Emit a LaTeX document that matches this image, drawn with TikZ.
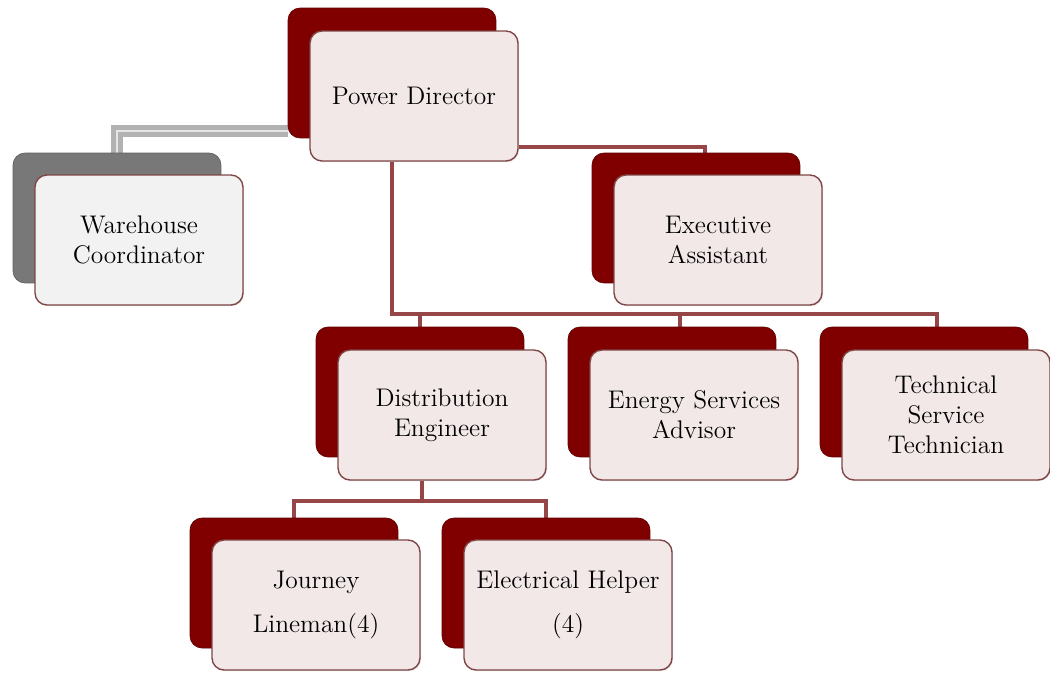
\documentclass[tikz,border=0pt]{standalone}
\usepackage{tikz}
\usetikzlibrary{arrows.meta, positioning, shadows, backgrounds}

\definecolor{darkred}{RGB}{128,0,0}
\definecolor{rimred}{RGB}{96,0,0}
\definecolor{pinkfill}{RGB}{242,232,232}
\definecolor{framebrown}{RGB}{128,70,70}
\definecolor{linkred}{RGB}{150,70,70}
\definecolor{darkgrey}{RGB}{120,120,120}
\definecolor{whitefill}{RGB}{242,242,242}

\begin{document}
\begin{tikzpicture}[x=0.02cm, y=-0.02cm,
    backbox/.style={draw=rimred, fill=darkred, rectangle, rounded corners=0.24cm,
        minimum width=4.16cm, minimum height=2.6cm, line width=0.4pt},
    greyback/.style={backbox, draw=darkgrey!80!black, fill=darkgrey},
    frontbox/.style={draw=framebrown, fill=pinkfill, rectangle, rounded corners=0.24cm,
        minimum width=4.16cm, minimum height=2.6cm, line width=0.8pt, align=center,
        font=\fontsize{14.5}{17}\selectfont,
        drop shadow={shadow xshift=0.6pt, shadow yshift=-0.6pt, opacity=0.25}},
    greyfront/.style={frontbox, fill=whitefill},
    redline/.style={draw=linkred, line width=1.9pt},
    greyline/.style={draw=gray!60, line width=2.6pt, double=gray!20, double distance=1.2pt}]
    \useasboundingbox (0,0) rectangle (1050,673);

    % Top level
    \node[backbox] (pdb) at (392,73) {};
    \node[frontbox] (pd) at (414,96) {Power Director};

    % Staff
    \node[greyback] (whb) at (117,218) {};
    \node[greyfront] (wh) at (139,240) {Warehouse\\Coordinator};
    \node[backbox] (eab) at (696,218) {};
    \node[frontbox] (ea) at (718,240) {Executive\\Assistant};

    % Second level
    \node[backbox] (deb) at (420,392) {};
    \node[frontbox] (de) at (442,415) {Distribution\\Engineer};
    \node[backbox] (esb) at (672,392) {};
    \node[frontbox] (es) at (694,415) {Energy Services\\Advisor};
    \node[backbox] (tsb) at (924,392) {};
    \node[frontbox] (ts) at (946,415) {Technical\\Service\\Technician};

    % Third level
    \node[backbox] (jlb) at (294,583) {};
    \node[frontbox] (jl) at (316,605) {Journey\\[8pt]Lineman(4)};
    \node[backbox] (ehb) at (546,583) {};
    \node[frontbox] (eh) at (568,605) {Electrical Helper\\[8pt](4)};

    % Connectors
    \coordinate (j1) at (117,131);
    \coordinate (j2) at (705,147);
    \coordinate (j3) at (392,314);
    \coordinate (j4) at (937,314);
    \coordinate (j5) at (680,314);
    \coordinate (k1) at (422,501);
    \begin{scope}[on background layer]
        \draw[greyline] (pdb.west |- j1) -- (j1) -- (whb.north);
        \draw[redline] (pd.east |- j2) -- (j2) -- (j2 |- eab.north);
        \draw[redline] (pd.south -| j3) -- (j3) -- (j4) -- (j4 |- tsb.north);
        \draw[redline] (j3 -| deb.north) -- (deb.north);
        \draw[redline] (j5) -- (j5 |- esb.north);
        \draw[redline] (de.south -| k1) -- (k1);
        \draw[redline] (jlb.north) -- (jlb.north |- k1) -- (ehb.north |- k1) -- (ehb.north);
    \end{scope}
\end{tikzpicture}
\end{document}
